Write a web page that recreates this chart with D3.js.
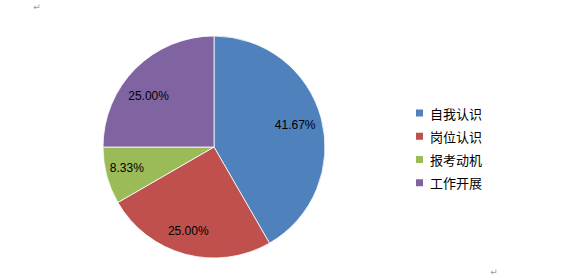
<!DOCTYPE html>
<html>
<head>
<meta charset="utf-8">
<script src="https://cdn.jsdelivr.net/npm/d3@7"></script>
<style>
  html, body { margin: 0; padding: 0; background: #fff; }
  svg { display: block; }
</style>
</head>
<body>
<svg id="chart" width="584" height="277"></svg>
<script>
const categories = ["自我认识", "岗位认识", "报考动机", "工作开展"];
const values = [41.67, 25.00, 8.33, 25.00];
const valueLabels = ["41.67%", "25.00%", "8.33%", "25.00%"];
const colors = ["#4F81BD", "#C0504D", "#9BBB59", "#8064A2"];

const svg = d3.select("#chart");
const cx = 214, cy = 147, r = 111;

const pie = d3.pie().sort(null).value(d => d)(values);
const arc = d3.arc().innerRadius(0).outerRadius(r);
const labelArc = d3.arc().innerRadius(84 * 2 - r).outerRadius(r); // centroid at 84

const g = svg.append("g").attr("transform", `translate(${cx},${cy})`);
g.selectAll("path").data(pie).enter().append("path")
  .attr("d", arc)
  .attr("fill", (d, i) => colors[i])
  .attr("stroke", "#ffffff")
  .attr("stroke-width", 0.8);

const labelOffsets = [[0, 0], [-4, 3], [-6, -1], [-6, 8]];
g.selectAll("text.val").data(pie).enter().append("text")
  .attr("class", "val")
  .attr("x", (d, i) => labelArc.centroid(d)[0] + labelOffsets[i][0])
  .attr("y", (d, i) => labelArc.centroid(d)[1] + labelOffsets[i][1])
  .attr("text-anchor", "middle")
  .attr("dominant-baseline", "central")
  .attr("font-family", "Liberation Sans, Arial, sans-serif")
  .attr("font-size", 12)
  .attr("fill", "#000")
  .text((d, i) => valueLabels[i]);

const legend = svg.append("g").attr("transform", "translate(416,113)");
const ly = d3.scaleBand().domain(categories).range([0, 93]).paddingInner(0);
categories.forEach((c, i) => {
  const y = ly(c);
  legend.append("rect").attr("x", 0).attr("y", y - 3.5).attr("width", 7).attr("height", 7)
    .attr("fill", colors[i]);
  legend.append("text").attr("x", 14).attr("y", y)
    .attr("dominant-baseline", "central")
    .attr("font-family", "Noto Sans CJK SC, sans-serif")
    .attr("font-size", 13)
    .attr("fill", "#000")
    .text(c);
});

svg.append("text").attr("x", 37).attr("y", 10).attr("text-anchor", "middle")
  .attr("font-family", "DejaVu Sans, sans-serif").attr("font-size", 9).attr("fill", "#999").text("↵");
svg.append("text").attr("x", 494).attr("y", 275).attr("text-anchor", "middle")
  .attr("font-family", "DejaVu Sans, sans-serif").attr("font-size", 9).attr("fill", "#999").text("↵");
</script>
</body>
</html>
